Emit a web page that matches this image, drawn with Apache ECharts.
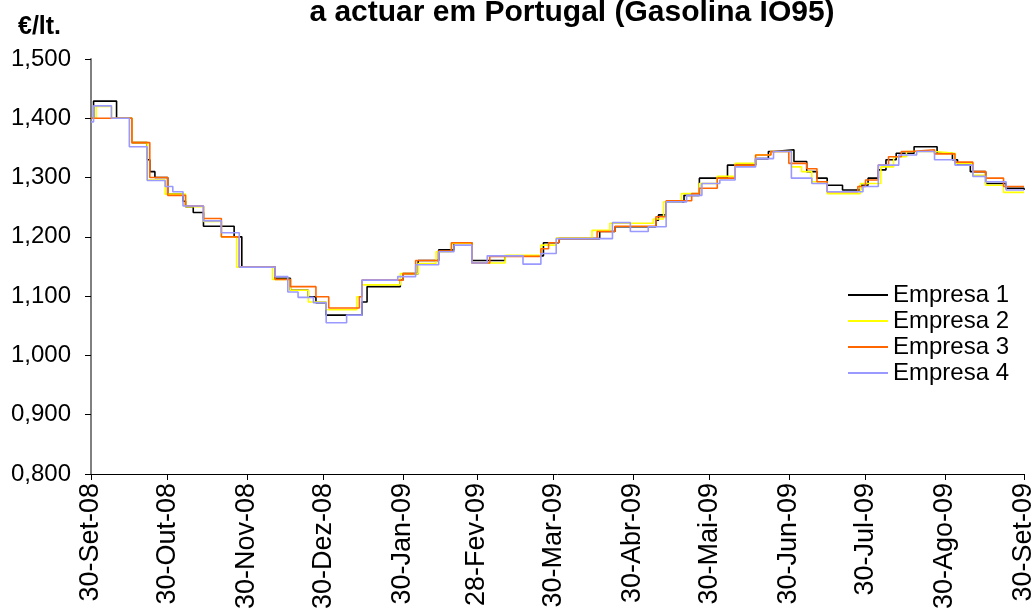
<!DOCTYPE html>
<html>
<head>
<meta charset="utf-8">
<script src="https://cdn.jsdelivr.net/npm/echarts@6/dist/echarts.min.js"></script>
<style>html,body{margin:0;padding:0;background:#fff}#c{width:1034px;height:608px}</style>
</head>
<body>
<div id="c"></div>
<script>
// Days counted from 30-Set-08; each pair = [day, €/lt. price from that day on]
const tickDays = [0, 30, 61, 91, 122, 151, 181, 212, 242, 273, 303, 334, 365];
const tickLabels = ['30-Set-08','30-Out-08','30-Nov-08','30-Dez-08','30-Jan-09','28-Fev-09','30-Mar-09','30-Abr-09','30-Mai-09','30-Jun-09','30-Jul-09','30-Ago-09','30-Set-09'];
const seriesNames = ['Empresa 1','Empresa 2','Empresa 3','Empresa 4'];

const empresa1 = [[0,1.400],[1,1.429],[10,1.400],[16,1.359],[22,1.330],[23,1.310],[25,1.300],[30,1.272],[36,1.260],[37,1.251],[40,1.241],[44,1.218],[56,1.200],[59,1.149],[72,1.130],[78,1.110],[85,1.099],[88,1.089],[92,1.068],[106,1.090],[108,1.116],[121,1.127],[122,1.138],[128,1.160],[136,1.178],[142,1.190],[149,1.160],[162,1.168],[177,1.190],[183,1.197],[199,1.209],[205,1.217],[221,1.228],[222,1.237],[225,1.259],[232,1.270],[238,1.299],[249,1.321],[260,1.332],[265,1.344],[267,1.347],[275,1.327],[280,1.310],[284,1.299],[288,1.287],[294,1.279],[301,1.287],[304,1.299],[308,1.313],[311,1.330],[315,1.341],[322,1.352],[331,1.341],[337,1.330],[339,1.321],[344,1.310],[350,1.290],[358,1.282],[365,1.279]];

const empresa2 = [[0,1.400],[2,1.420],[8,1.400],[16,1.359],[22,1.296],[29,1.272],[37,1.251],[44,1.226],[51,1.200],[57,1.149],[71,1.128],[78,1.110],[85,1.090],[92,1.077],[104,1.099],[106,1.119],[121,1.138],[128,1.155],[135,1.175],[141,1.189],[149,1.156],[162,1.169],[176,1.186],[182,1.198],[196,1.211],[203,1.223],[220,1.230],[224,1.259],[231,1.273],[238,1.290],[245,1.302],[252,1.324],[260,1.338],[266,1.344],[274,1.318],[278,1.310],[282,1.293],[288,1.273],[301,1.290],[309,1.318],[314,1.335],[319,1.344],[330,1.341],[338,1.324],[345,1.304],[350,1.287],[357,1.275],[365,1.275]];

const empresa3 = [[0,1.400],[16,1.359],[23,1.300],[30,1.270],[37,1.252],[44,1.231],[51,1.200],[58,1.149],[72,1.128],[78,1.116],[88,1.099],[93,1.080],[105,1.099],[106,1.127],[122,1.138],[127,1.160],[136,1.176],[141,1.190],[149,1.156],[156,1.167],[176,1.180],[179,1.190],[183,1.197],[198,1.209],[205,1.218],[221,1.234],[225,1.261],[235,1.273],[238,1.282],[245,1.299],[252,1.321],[260,1.338],[266,1.344],[273,1.324],[280,1.315],[284,1.293],[288,1.276],[300,1.285],[303,1.296],[308,1.321],[312,1.335],[317,1.344],[321,1.347],[330,1.340],[338,1.326],[345,1.310],[350,1.299],[357,1.285],[365,1.285]];

const empresa4 = [[0,1.394],[1,1.421],[8,1.400],[15,1.352],[22,1.295],[29,1.285],[32,1.276],[36,1.252],[44,1.227],[51,1.207],[58,1.149],[72,1.133],[77,1.107],[81,1.098],[87,1.089],[92,1.055],[100,1.068],[106,1.127],[120,1.133],[127,1.153],[136,1.175],[142,1.186],[149,1.156],[155,1.168],[169,1.154],[176,1.172],[182,1.197],[204,1.224],[211,1.209],[218,1.217],[225,1.259],[233,1.270],[239,1.290],[246,1.296],[252,1.318],[260,1.332],[267,1.344],[274,1.299],[282,1.290],[288,1.276],[302,1.285],[308,1.321],[316,1.338],[323,1.344],[330,1.330],[338,1.321],[345,1.302],[350,1.293],[358,1.279],[365,1.279]];

const yTicks = { min: 0.8, max: 1.5, step: 0.1 };
const colors = ['#000000', '#FFFF00', '#FF6600', '#9999FF'];
const allData = [empresa1, empresa2, empresa3, empresa4];

const FONT = "'Liberation Sans', Arial, sans-serif";
const labelMap = {};
tickDays.forEach((d, i) => { labelMap[d] = tickLabels[i]; });

const chart = echarts.init(document.getElementById('c'), null, { renderer: 'canvas' });
chart.setOption({
  animation: false,
  backgroundColor: '#ffffff',
  textStyle: { fontFamily: FONT },
  title: {
    text: 'a actuar em Portugal (Gasolina IO95)',
    left: 567, top: -7, textAlign: 'center',
    textStyle: { fontFamily: FONT, fontSize: 30, fontWeight: 'bold', color: '#000' }
  },
  graphic: [{
    type: 'text', left: 18, top: 15,
    style: { text: '€/lt.', font: "bold 25px 'Liberation Sans', Arial, sans-serif", fill: '#000' }
  }],
  legend: {
    orient: 'vertical', left: 848, top: 283, padding: 0,
    icon: 'rect', itemWidth: 40, itemHeight: 2, itemGap: 2,
    data: seriesNames,
    textStyle: { fontFamily: FONT, fontSize: 24, color: '#000', lineHeight: 24, padding: [0,0,0,0] }
  },
  grid: { left: 91, right: 10, top: 59, bottom: 134, containLabel: false, outerBoundsMode: 'none' },
  xAxis: {
    type: 'value', min: 0, max: 365,
    axisLine: { show: true, lineStyle: { color: '#000', width: 1 } },
    axisTick: { show: true, length: 6, customValues: tickDays, lineStyle: { color: '#000' } },
    axisLabel: {
      customValues: tickDays, rotate: 90, margin: 9,
      fontFamily: FONT, fontSize: 27, color: '#000',
      formatter: v => labelMap[v] || ''
    },
    splitLine: { show: false }
  },
  yAxis: {
    type: 'value', min: yTicks.min, max: yTicks.max, interval: yTicks.step,
    axisLine: { show: true, lineStyle: { color: '#808080', width: 2 } },
    axisTick: { show: true, length: 6, inside: false, lineStyle: { color: '#000' } },
    axisLabel: {
      margin: 20, fontFamily: FONT, fontSize: 24, color: '#000',
      formatter: v => v.toFixed(3).replace('.', ',')
    },
    splitLine: { show: false }
  },
  series: seriesNames.map((n, i) => ({
    name: n, type: 'line', step: 'end',
    data: allData[i],
    symbol: 'none', showSymbol: false,
    color: colors[i],
    lineStyle: { color: colors[i], width: 1.6 },
    z: 2 + i
  }))
});
</script>
</body>
</html>
